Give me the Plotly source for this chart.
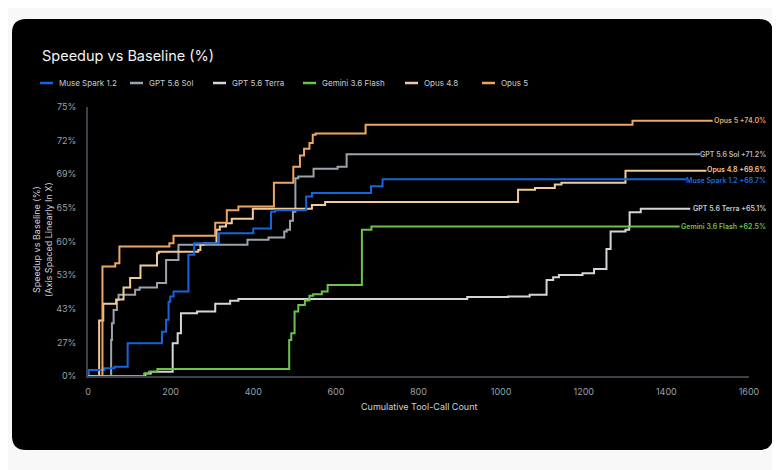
import plotly.graph_objects as go

# step data: x = cumulative tool calls, y = speedup vs baseline (%)
muse_x = [0, 2, 39, 64, 96, 179, 189, 195, 199, 207, 243, 257, 317, 400, 443, 453, 528, 542, 685, 713, 1448]
muse_y = [0, 6.3, 7.9, 9.4, 26.7, 33.1, 38.5, 45.3, 47.0, 48.5, 57.5, 59.7, 61.4, 62.2, 64.7, 64.9, 66.7, 67.1, 67.9, 68.7, 68.7]

sol_x = [0, 56, 58, 62, 70, 74, 114, 125, 167, 189, 219, 386, 437, 475, 481, 489, 496, 502, 509, 546, 604, 626, 1481]
sol_y = [0, 28.7, 37.0, 42.4, 45.9, 47.5, 49.0, 49.7, 50.9, 56.4, 59.4, 60.3, 60.7, 61.7, 62.0, 63.4, 64.7, 68.8, 69.0, 69.8, 70.0, 71.2, 71.2]

terra_x = [0, 139, 152, 205, 217, 225, 264, 308, 344, 364, 918, 1017, 1069, 1110, 1126, 1140, 1197, 1225, 1255, 1265,
           1301, 1310, 1311, 1338, 1458]
terra_y = [0, 2.7, 4.6, 26.7, 32.3, 41.2, 41.8, 44.6, 45.6, 46.2, 46.8, 47.0, 47.5, 51.7, 52.4, 53.0, 53.4, 54.4, 58.6,
           61.7, 62.0, 62.5, 64.6, 65.1, 65.1]

gemini_x = [0, 136, 148, 168, 487, 492, 500, 509, 525, 536, 545, 566, 580, 663, 686, 1432]
gemini_y = [0, 2.7, 4.6, 7.2, 28.7, 32.3, 41.8, 44.2, 45.7, 47.2, 47.7, 48.5, 50.4, 62.0, 62.5, 62.5]

opus48_x = [0, 27, 37, 68, 86, 102, 127, 167, 171, 267, 272, 280, 311, 319, 334, 348, 399, 542, 574, 1041, 1082, 1130,
            1146, 1301, 1497]
opus48_y = [0, 38.2, 44.6, 46.0, 49.7, 52.2, 55.2, 57.8, 58.1, 58.4, 59.4, 59.7, 62.0, 62.5, 63.0, 63.7, 65.1, 65.6, 66.0,
            67.5, 67.7, 68.1, 68.3, 69.6, 69.6]

opus5_x = [0, 35, 66, 76, 197, 207, 308, 336, 364, 450, 497, 513, 523, 536, 544, 551, 672, 1318, 1512]
opus5_y = [0, 55.0, 55.7, 59.1, 59.7, 61.0, 63.1, 64.9, 65.4, 68.3, 70.0, 71.1, 71.7, 72.2, 72.9, 73.0, 73.7, 74.0, 74.0]

y_tick_labels = ["0%", "27%", "43%", "53%", "60%", "65%", "69%", "72%", "75%"]
x_ticks = [0, 200, 400, 600, 800, 1000, 1200, 1400, 1600]

series = [
    # name, x, y, line colour, label colour, label nudge
    ("GPT 5.6 Terra", terra_x, terra_y, "#d3d7db", "#c9cdd1", 0),
    ("Gemini 3.6 Flash", gemini_x, gemini_y, "#6cc24a", "#6cc24a", 0),
    ("GPT 5.6 Sol", sol_x, sol_y, "#9ba4ad", "#b4bbc2", 0),
    ("Opus 4.8", opus48_x, opus48_y, "#f2cb9b", "#f2cb9b", 1.5),
    ("Muse Spark 1.2", muse_x, muse_y, "#1466dc", "#1a6fe6", -1.5),
    ("Opus 5", opus5_x, opus5_y, "#eca764", "#eca764", 0),
]
legend_order = ["Muse Spark 1.2", "GPT 5.6 Sol", "GPT 5.6 Terra", "Gemini 3.6 Flash", "Opus 4.8", "Opus 5"]


def to_axis(p):
    # axis is linear in speedup factor: 1/(1-p) - 1
    return p / (100.0 - p)


# page sits 8px in from the window corner
W, H = 772, 462
OFF = 8
# plot area in window pixels
L, R, T, B = 88 - OFF, 749 - OFF, 107 - OFF, 376 - OFF


def px(x):
    return (x - OFF - L) / (R - L)


def py(y):
    return (B - (y - OFF)) / (B - T)


fig = go.Figure()

for name, xs, ys, col, lcol, nudge in series:
    fig.add_trace(go.Scatter(
        x=xs, y=[to_axis(v) for v in ys], mode="lines", name=name,
        line=dict(color=col, width=2, shape="hv"),
        cliponaxis=False, showlegend=False, hoverinfo="skip",
    ))

ann = []
shapes = []

# card background with rounded corners
cx0, cx1, cy0, cy1, rad = px(12), px(773), py(450), py(19), 14
rx, ry = rad / (R - L), rad / (B - T)
shapes.append(dict(
    type="path", xref="paper", yref="paper", layer="below", fillcolor="#000000", line=dict(width=0),
    path=(f"M {cx0 + rx} {cy0} L {cx1 - rx} {cy0} Q {cx1} {cy0} {cx1} {cy0 + ry} "
          f"L {cx1} {cy1 - ry} Q {cx1} {cy1} {cx1 - rx} {cy1} "
          f"L {cx0 + rx} {cy1} Q {cx0} {cy1} {cx0} {cy1 - ry} "
          f"L {cx0} {cy0 + ry} Q {cx0} {cy0} {cx0 + rx} {cy0} Z"),
))

# end labels
for name, xs, ys, col, lcol, nudge in series:
    ann.append(dict(
        x=px(768), xref="paper", y=to_axis(ys[-1]), yref="y", xanchor="right", yanchor="middle",
        yshift=nudge, text=f"{name} +{ys[-1]:.1f}%", showarrow=False,
        font=dict(size=7, color=lcol, family="Inter", weight=600),
    ))

# legend row
legend_x = [40, 130, 213, 303, 405, 482]
colors = {s[0]: s[3] for s in series}
for lx, name in zip(legend_x, legend_order):
    shapes.append(dict(type="line", xref="paper", yref="paper", x0=px(lx), x1=px(lx + 13), y0=py(83), y1=py(83),
                       line=dict(color=colors[name], width=2.5)))
    ann.append(dict(x=px(lx + 17), y=py(83), xref="paper", yref="paper", xanchor="left", yanchor="middle",
                    text=name, showarrow=False, font=dict(size=8, color="#c8ccd0", family="Inter")))

# title and axis titles
ann.append(dict(x=px(40), y=py(56), xref="paper", yref="paper", xanchor="left", yanchor="middle",
                text="Speedup vs Baseline (%)", showarrow=False,
                font=dict(size=14.5, color="#f2f2f2", family="Inter")))
ann.append(dict(x=px(42), y=py(240), xref="paper", yref="paper", xanchor="center", yanchor="middle",
                text="Speedup vs Baseline (%)<br>(Axis Spaced Linearly In X)", textangle=-90, showarrow=False,
                font=dict(size=9, color="#d0d3d6", family="Inter")))
ann.append(dict(x=0.5, y=py(406), xref="paper", yref="paper", xanchor="center", yanchor="middle",
                text="Cumulative Tool-Call Count", showarrow=False,
                font=dict(size=9, color="#d0d3d6", family="Inter")))

fig.update_layout(
    width=W, height=H, autosize=False,
    margin=dict(l=L, r=W - R, t=T, b=H - B),
    paper_bgcolor="#f8f8f8", plot_bgcolor="rgba(0,0,0,0)",
    font=dict(family="Inter", color="#9aa0a7"),
    shapes=shapes, annotations=ann,
    xaxis=dict(
        range=[0, 1600], tickvals=x_ticks, showgrid=False, zeroline=False,
        showline=True, linecolor="#3b4148", linewidth=1.5, ticks="",
        tickfont=dict(size=9, color="#9aa0a7"), ticklabelstandoff=6,
    ),
    yaxis=dict(
        range=[0, to_axis(75)], tickvals=[to_axis(75) * i / (len(y_tick_labels) - 1) for i in range(len(y_tick_labels))],
        ticktext=y_tick_labels, showgrid=False, zeroline=False,
        showline=True, linecolor="#3b4148", linewidth=1.5, ticks="",
        tickfont=dict(size=9, color="#9aa0a7"), ticklabelstandoff=8,
    ),
)

fig.write_html("out.html")
